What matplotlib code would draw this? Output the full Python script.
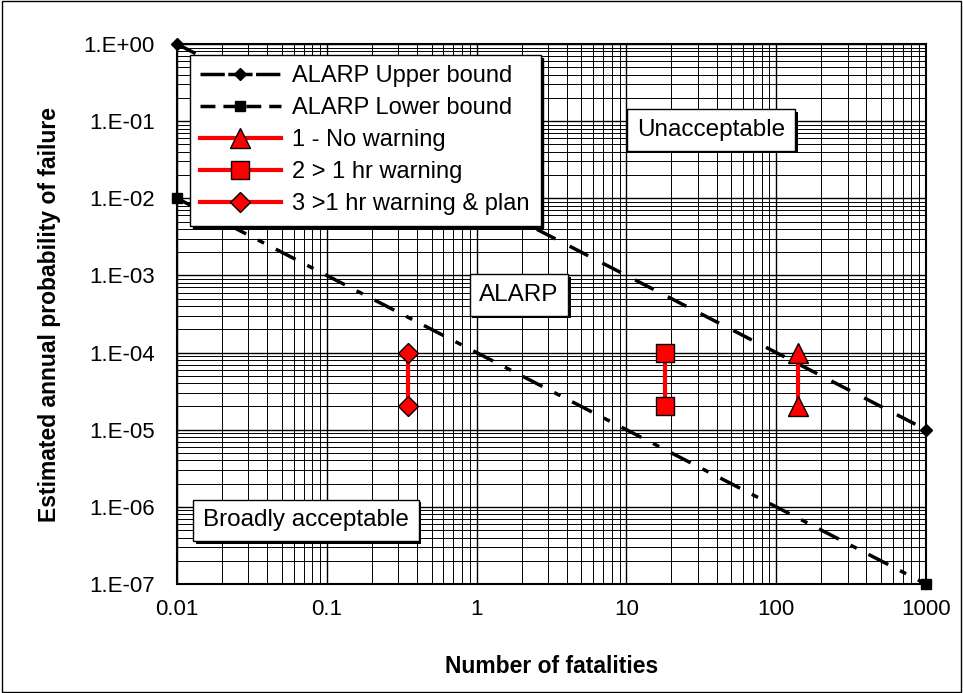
import numpy as np
import matplotlib.pyplot as plt
from matplotlib import patheffects as pe

plt.rcParams['font.family'] = ['Liberation Sans', 'DejaVu Sans']

# data
upper_x = [0.01, 1000]
upper_y = [1.0, 1e-5]
lower_x = [0.01, 1000]
lower_y = [1e-2, 1e-7]

s1_x = [140, 140]
s1_y = [1e-4, 2e-5]
s2_x = [18, 18]
s2_y = [1e-4, 2e-5]
s3_x = [0.35, 0.35]
s3_y = [1e-4, 2e-5]

x_ticks = [0.01, 0.1, 1, 10, 100, 1000]
x_labels = ["0.01", "0.1", "1", "10", "100", "1000"]
y_ticks = [1e0, 1e-1, 1e-2, 1e-3, 1e-4, 1e-5, 1e-6, 1e-7]
y_labels = ["1.E+00", "1.E-01", "1.E-02", "1.E-03", "1.E-04", "1.E-05", "1.E-06", "1.E-07"]

fig = plt.figure(figsize=(9.63, 6.93), dpi=100)
ax = fig.add_axes([177/963, 1 - 584/693, 749/963, 540/693])

lw = 2.5
ax.plot(upper_x, upper_y, color="black", lw=lw, ls=(0, (6, 4.6)),
        marker="D", ms=6, label="ALARP Upper bound", zorder=3, clip_on=False)
ax.plot(lower_x, lower_y, color="black", lw=lw, ls=(0, (6.4, 3.8, 2, 3.8)),
        marker="s", ms=7, label="ALARP Lower bound", zorder=3, clip_on=False)

red = "#ff0000"
ax.plot(s1_x, s1_y, color=red, lw=3, marker="^", ms=14, mfc=red, mec="black",
        mew=1, label="1 - No warning", zorder=4)
ax.plot(s2_x, s2_y, color=red, lw=3, marker="s", ms=13, mfc=red, mec="black",
        mew=1, label="2 > 1 hr warning", zorder=4)
ax.plot(s3_x, s3_y, color=red, lw=3, marker="D", ms=10, mfc=red, mec="black",
        mew=1, label="3 >1 hr warning & plan", zorder=4)

ax.set_xscale("log")
ax.set_yscale("log")
ax.set_xlim(0.01, 1000)
ax.set_ylim(1e-7, 1)

ax.set_xticks(x_ticks)
ax.set_xticklabels(x_labels)
ax.set_yticks(y_ticks)
ax.set_yticklabels(y_labels)
ax.tick_params(which="both", length=0, labelsize=16)
ax.tick_params(axis="x", pad=11)
ax.tick_params(axis="y", pad=16)

ax.grid(True, which="major", color="black", lw=1)
ax.grid(True, which="minor", color="black", lw=0.7)
ax.set_axisbelow(True)
for sp in ax.spines.values():
    sp.set_linewidth(1.5)

ax.set_xlabel("Number of fatalities", fontsize=16.5, fontweight="bold", labelpad=25)
ax.set_ylabel("Estimated annual probability of failure", fontsize=16.5,
              fontweight="bold", labelpad=16)

# region labels
shadow = [pe.withSimplePatchShadow(offset=(2, -2), shadow_rgbFace="black", alpha=1)]
for txt, x, y in [("Unacceptable", 36.7, 0.077), ("ALARP", 1.92, 5.6e-4),
                  ("Broadly acceptable", 0.0726, 6.7e-7)]:
    t = ax.text(x, y, txt, ha="center", va="center", fontsize=17.5, zorder=5,
                bbox=dict(boxstyle="square,pad=0.4", fc="white", ec="black", lw=1))
    t.get_bbox_patch().set_path_effects(shadow)

leg = ax.legend(loc="upper left", bbox_to_anchor=(0.017, 0.98), borderaxespad=0,
                fontsize=17, handlelength=3.4, handletextpad=0.5, labelspacing=0.42,
                borderpad=0.45, numpoints=1,
                fancybox=False, edgecolor="black", framealpha=1,
                shadow={"color": "black", "alpha": 1})
leg.get_frame().set_linewidth(1)
leg.set_zorder(6)
leg_lines = leg.get_lines()
leg_lines[0].set_linestyle((0, (7, 1)))
leg_lines[1].set_linestyle((0, (4.3, 2.3)))

fig.patches.append(plt.Rectangle((0.002, 0.002), 0.996, 0.996, transform=fig.transFigure,
                                 fill=False, ec="black", lw=1))

fig.savefig("out.png", dpi=100)
